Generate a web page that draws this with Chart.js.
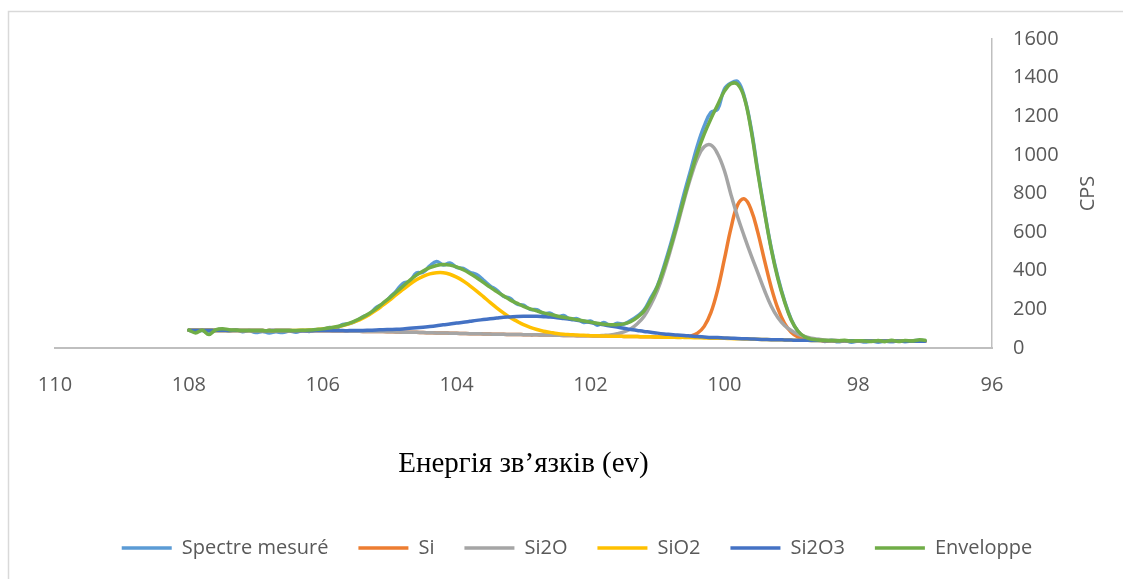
<!DOCTYPE html>
<html lang="uk">
<head>
<meta charset="UTF-8">
<title>Si 2p – XPS</title>
<style>
  html, body { margin: 0; padding: 0; background: #fff; }
  #wrap { width: 1123px; height: 579px; }
</style>
<script src="https://cdn.jsdelivr.net/npm/chart.js"></script>
</head>
<body>
<div id="wrap"><canvas id="xpsChart" width="1123" height="579"></canvas></div>
<script>
// binding energy grid (eV), high to low
const energies = [
  108.0, 107.9, 107.8, 107.7, 107.6, 107.5, 107.4, 107.3, 107.2, 107.1,
  107.0, 106.9, 106.8, 106.7, 106.6, 106.5, 106.4, 106.3, 106.2, 106.1,
  106.0, 105.9, 105.8, 105.7, 105.6, 105.5, 105.4, 105.3, 105.2, 105.1,
  105.0, 104.9, 104.8, 104.7, 104.6, 104.5, 104.4, 104.3, 104.2, 104.1,
  104.0, 103.9, 103.8, 103.7, 103.6, 103.5, 103.4, 103.3, 103.2, 103.1,
  103.0, 102.9, 102.8, 102.7, 102.6, 102.5, 102.4, 102.3, 102.2, 102.1,
  102.0, 101.9, 101.8, 101.7, 101.6, 101.5, 101.4, 101.3, 101.2, 101.1,
  101.0, 100.9, 100.8, 100.7, 100.6, 100.5, 100.4, 100.3, 100.2, 100.1,
  100.0, 99.9, 99.8, 99.7, 99.6, 99.5, 99.4, 99.3, 99.2, 99.1,
  99.0, 98.9, 98.8, 98.7, 98.6, 98.5, 98.4, 98.3, 98.2, 98.1,
  98.0, 97.9, 97.8, 97.7, 97.6, 97.5, 97.4, 97.3, 97.2, 97.1, 97.0
];

// counts per second
const spectreMesure = [
  92, 85, 90, 78, 92, 97, 88, 95, 84, 90,
  80, 86, 78, 84, 80, 88, 82, 90, 86, 94,
  95, 106, 103, 122, 126, 140, 162, 176, 210, 228,
  262, 296, 335, 346, 388, 392, 425, 448, 430, 440,
  418, 412, 392, 380, 352, 322, 300, 268, 258, 228,
  222, 200, 198, 178, 180, 160, 168, 148, 152, 132,
  140, 118, 132, 116, 128, 124, 142, 165, 196, 258,
  322, 425, 540, 665, 800, 925, 1050, 1150, 1220, 1235,
  1340, 1372, 1380, 1300, 1140, 920, 712, 520, 368, 245,
  148, 86, 55, 40, 44, 34, 40, 32, 38, 30,
  36, 31, 36, 30, 36, 32, 38, 33, 37, 40, 38
];

const si = [
  92, 92, 92, 92, 91, 91, 91, 91, 91, 91,
  91, 90, 90, 90, 90, 90, 89, 89, 89, 89,
  89, 89, 88, 88, 87, 87, 86, 86, 85, 85,
  84, 83, 82, 82, 81, 80, 79, 78, 78, 77,
  76, 75, 74, 74, 73, 72, 71, 71, 70, 70,
  69, 68, 68, 67, 67, 66, 65, 65, 64, 64,
  63, 62, 62, 61, 61, 60, 59, 59, 58, 58,
  57, 56, 56, 56, 57, 62, 77, 112, 183, 300,
  457, 621, 742, 772, 717, 600, 455, 316, 205, 128,
  82, 57, 47, 41, 40, 38, 38, 38, 37, 37,
  37, 37, 36, 36, 36, 36, 36, 35, 35, 35, 35
];

const si2o = [
  92, 92, 92, 92, 91, 91, 91, 91, 91, 91,
  91, 90, 90, 90, 90, 90, 89, 89, 89, 89,
  89, 89, 88, 88, 87, 87, 86, 86, 85, 85,
  84, 83, 82, 82, 81, 80, 79, 78, 78, 77,
  76, 75, 74, 74, 73, 72, 71, 71, 70, 70,
  69, 68, 68, 67, 67, 66, 65, 65, 64, 64,
  64, 63, 65, 68, 74, 83, 99, 126, 163, 223,
  297, 396, 511, 635, 765, 884, 983, 1042, 1051, 1006,
  920, 794, 678, 577, 481, 390, 299, 218, 158, 117,
  91, 72, 60, 51, 46, 42, 40, 39, 37, 37,
  37, 37, 36, 36, 36, 36, 36, 35, 35, 35, 35
];

const sio2 = [
  92, 92, 92, 92, 91, 91, 91, 91, 91, 91,
  91, 90, 90, 90, 91, 91, 91, 92, 93, 95,
  98, 103, 108, 116, 126, 139, 155, 174, 196, 222,
  248, 276, 303, 330, 353, 371, 384, 390, 390, 382,
  367, 347, 322, 295, 266, 236, 208, 182, 158, 139,
  121, 107, 96, 87, 81, 75, 71, 69, 67, 66,
  64, 63, 62, 61, 61, 60, 59, 59, 58, 58,
  57, 56, 56, 55, 55, 54, 53, 52, 51, 51,
  50, 49, 48, 47, 46, 45, 44, 43, 43, 42,
  41, 40, 40, 39, 39, 38, 38, 38, 37, 37,
  37, 37, 36, 36, 36, 36, 36, 35, 35, 35, 35
];

const si2o3 = [
  92, 92, 92, 92, 91, 91, 91, 91, 91, 91,
  91, 90, 90, 90, 90, 90, 89, 89, 89, 90,
  90, 90, 90, 90, 90, 91, 91, 92, 93, 95,
  96, 97, 99, 102, 105, 108, 111, 115, 120, 124,
  129, 133, 138, 143, 147, 151, 155, 159, 161, 163,
  164, 164, 164, 162, 160, 157, 153, 149, 143, 138,
  132, 126, 120, 114, 108, 102, 96, 91, 86, 82,
  77, 73, 70, 67, 65, 62, 59, 57, 55, 54,
  52, 51, 49, 48, 47, 45, 44, 43, 43, 42,
  41, 40, 40, 39, 39, 38, 38, 38, 37, 37,
  37, 37, 36, 36, 36, 36, 36, 35, 35, 35, 35
];

const enveloppe = [
  93, 78, 92, 70, 94, 100, 95, 93, 91, 91,
  91, 90, 90, 90, 91, 91, 91, 92, 93, 96,
  99, 104, 110, 118, 129, 143, 160, 180, 204, 232,
  260, 290, 320, 350, 377, 399, 416, 427, 432, 429,
  420, 405, 386, 364, 340, 315, 292, 270, 249, 232,
  216, 203, 192, 182, 174, 166, 159, 153, 146, 140,
  134, 128, 123, 121, 121, 125, 136, 158, 191, 247,
  317, 413, 525, 648, 777, 900, 1013, 1107, 1187, 1258,
  1329, 1368, 1365, 1295, 1130, 910, 705, 515, 360, 240,
  145, 88, 58, 46, 42, 40, 39, 38, 40, 36,
  38, 36, 34, 39, 33, 40, 34, 39, 36, 42, 40
];

const xTicks = { min: 96, max: 110, step: 2 };
const yTicks = { min: 0, max: 1600, step: 200 };

const labelFont = { family: '"Open Sans", sans-serif', size: 20 };
const labelColor = '#595959';

function series(label, values, color, order) {
  return {
    label: label,
    data: values.map((v, i) => ({ x: energies[i], y: v })),
    borderColor: color,
    backgroundColor: color,
    borderWidth: 3.5,
    borderCapStyle: 'round',
    borderJoinStyle: 'round',
    pointRadius: 0,
    tension: 0.4,
    order: order
  };
}

// outer frame + rotated "CPS" title on the right axis
const frameAndTitle = {
  id: 'frameAndTitle',
  beforeDraw(chart) {
    const ctx = chart.ctx;
    ctx.save();
    ctx.fillStyle = '#ffffff';
    ctx.fillRect(0, 0, chart.width, chart.height);
    ctx.strokeStyle = '#d9d9d9';
    ctx.lineWidth = 1.5;
    ctx.strokeRect(8.5, 11.5, chart.width + 20, chart.height + 20);
    ctx.restore();
  },
  afterDraw(chart) {
    const ctx = chart.ctx;
    const area = chart.chartArea;
    const yScale = chart.scales.y;
    ctx.save();
    ctx.font = '20px "Open Sans", sans-serif';
    ctx.fillStyle = labelColor;
    ctx.translate(yScale.left + 96, (area.top + area.bottom) / 2);
    ctx.rotate(-Math.PI / 2);
    ctx.textAlign = 'center';
    ctx.textBaseline = 'middle';
    ctx.fillText('CPS', 0, 0);
    ctx.restore();
  }
};

new Chart(document.getElementById('xpsChart'), {
  type: 'line',
  data: {
    datasets: [
      series('Spectre mesuré', spectreMesure, '#5b9bd5', 6),
      series('Si', si, '#ed7d31', 5),
      series('Si2O', si2o, '#a5a5a5', 4),
      series('SiO2', sio2, '#ffc000', 3),
      series('Si2O3', si2o3, '#4472c4', 2),
      series('Enveloppe', enveloppe, '#70ad47', 1)
    ]
  },
  options: {
    responsive: false,
    animation: false,
    devicePixelRatio: 1,
    layout: { padding: { left: 31, top: 39, right: 0, bottom: 11 } },
    plugins: {
      tooltip: { enabled: false },
      legend: {
        position: 'bottom',
        labels: {
          usePointStyle: true,
          pointStyle: 'line',
          pointStyleWidth: 50,
          padding: 30,
          color: labelColor,
          font: labelFont,
          sort: (a, b) => a.datasetIndex - b.datasetIndex
        }
      }
    },
    scales: {
      x: {
        type: 'linear',
        reverse: true,
        min: xTicks.min,
        max: xTicks.max,
        ticks: {
          stepSize: xTicks.step,
          padding: 25,
          maxRotation: 0,
          color: labelColor,
          font: labelFont,
          callback: v => String(v)
        },
        grid: { display: false, drawTicks: false },
        border: { color: '#bfbfbf', width: 2 },
        title: {
          display: true,
          text: 'Енергія зв’язків (ev)',
          color: '#000000',
          font: { family: '"Liberation Serif", serif', size: 29 },
          padding: { top: 0, bottom: 26 }
        },
        afterFit(scale) { scale.height = 160; }
      },
      y: {
        position: 'right',
        min: yTicks.min,
        max: yTicks.max,
        ticks: {
          stepSize: yTicks.step,
          padding: 21,
          color: labelColor,
          font: labelFont,
          callback: v => String(v)
        },
        grid: { display: false, drawTicks: false },
        border: { color: '#bfbfbf', width: 1.5 },
        afterFit(scale) { scale.width = 131; }
      },
      yLeft: {
        position: 'left',
        display: true,
        ticks: { display: false },
        grid: { display: false, drawTicks: false },
        border: { display: false },
        afterFit(scale) { scale.width = 24; }
      }
    }
  },
  plugins: [frameAndTitle]
});
</script>
</body>
</html>
